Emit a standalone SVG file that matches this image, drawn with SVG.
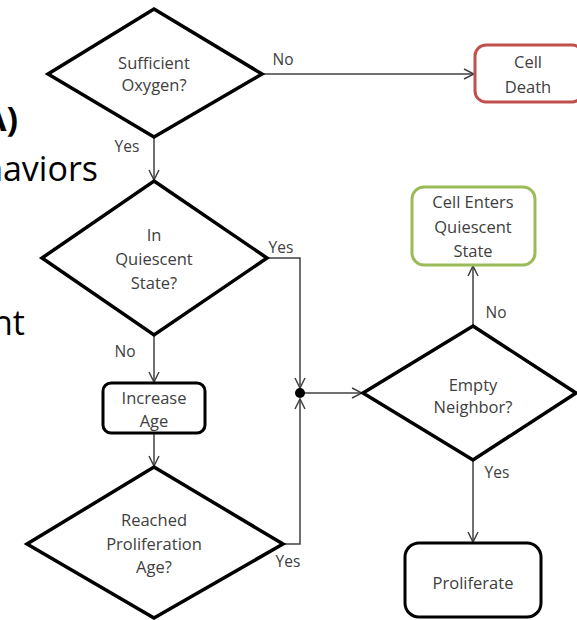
<svg xmlns="http://www.w3.org/2000/svg" width="577" height="620" viewBox="0 0 577 620">
  <defs>
    <marker id="arr" viewBox="0 0 12 12" refX="11" refY="6" markerWidth="12" markerHeight="12" markerUnits="userSpaceOnUse" orient="auto">
      <path d="M1,1 L11,6 L1,11" fill="none" stroke="#404040" stroke-width="1.5"/>
    </marker>
  </defs>
  <style>
    .dia { fill: #ffffff; stroke: #000000; stroke-width: 3.5; stroke-linejoin: miter; }
    .box { fill: #ffffff; stroke: #000000; stroke-width: 3; }
    .red { stroke: #c0504d; }
    .green { stroke: #9bbb59; }
    .t { font-family: "Open Sans", "Liberation Sans", sans-serif; font-size: 16.5px; fill: #404040; text-anchor: middle; }
    .lbl { font-family: "Open Sans", "Liberation Sans", sans-serif; font-size: 15.5px; fill: #404040; text-anchor: middle; }
    .big { font-family: "Open Sans", "Liberation Sans", sans-serif; font-size: 34px; fill: #000000; text-anchor: end; }
    .conn { fill: none; stroke: #404040; stroke-width: 1.5; }
  </style>
  <rect width="577" height="620" fill="#ffffff"/>

  <g id="background-text">
    <text class="big" x="18" y="131" font-weight="bold">A)</text>
    <text class="big" x="98" y="181">haviors</text>
    <text class="big" x="25" y="335">nt</text>
  </g>

  <g id="connectors">
    <path class="conn" d="M262,74 H474" marker-end="url(#arr)"/>
    <path class="conn" d="M154,137 V180" marker-end="url(#arr)"/>
    <path class="conn" d="M154,335 V382" marker-end="url(#arr)"/>
    <path class="conn" d="M154,433 V466" marker-end="url(#arr)"/>
    <path class="conn" d="M267,258 H300 V388" marker-end="url(#arr)"/>
    <path class="conn" d="M283,544 H300 V399" marker-end="url(#arr)"/>
    <path class="conn" d="M300,393 H362" marker-end="url(#arr)"/>
    <path class="conn" d="M473,326 V266" marker-end="url(#arr)"/>
    <path class="conn" d="M473,460 V542" marker-end="url(#arr)"/>
    <circle cx="300" cy="393" r="5" fill="#000000"/>
    <text class="lbl" x="283" y="65">No</text>
    <text class="lbl" x="127" y="152">Yes</text>
    <text class="lbl" x="281" y="253">Yes</text>
    <text class="lbl" x="125" y="357">No</text>
    <text class="lbl" x="496" y="318">No</text>
    <text class="lbl" x="497" y="478">Yes</text>
    <text class="lbl" x="288" y="567">Yes</text>
  </g>

  <g id="sufficient-oxygen">
    <polygon class="dia" points="154,9 262,74 154,137 48,74"/>
    <text class="t" x="154" y="69">Sufficient</text>
    <text class="t" x="154" y="91">Oxygen?</text>
  </g>

  <g id="cell-death">
    <rect class="box red" x="475" y="45" width="108" height="57" rx="11"/>
    <text class="t" x="528" y="68">Cell</text>
    <text class="t" x="528" y="93">Death</text>
  </g>

  <g id="in-quiescent">
    <polygon class="dia" points="154,181 267,258 154,335 42,258"/>
    <text class="t" x="154" y="241">In</text>
    <text class="t" x="154" y="265">Quiescent</text>
    <text class="t" x="154" y="289">State?</text>
  </g>

  <g id="increase-age">
    <rect class="box" x="103" y="383" width="102" height="50" rx="8"/>
    <text class="t" x="154" y="404">Increase</text>
    <text class="t" x="154" y="427">Age</text>
  </g>

  <g id="reached-proliferation-age">
    <polygon class="dia" points="154,467 283,544 154,618 27,544"/>
    <text class="t" x="154" y="526">Reached</text>
    <text class="t" x="154" y="550">Proliferation</text>
    <text class="t" x="154" y="573">Age?</text>
  </g>

  <g id="cell-enters-quiescent">
    <rect class="box green" x="412" y="187" width="123" height="78" rx="12"/>
    <text class="t" x="473" y="208">Cell Enters</text>
    <text class="t" x="473" y="233">Quiescent</text>
    <text class="t" x="473" y="257">State</text>
  </g>

  <g id="empty-neighbor">
    <polygon class="dia" points="473,326 576,393 473,460 363,393"/>
    <text class="t" x="473" y="391">Empty</text>
    <text class="t" x="473" y="413">Neighbor?</text>
  </g>

  <g id="proliferate">
    <rect class="box" x="405" y="543" width="136" height="74" rx="14" stroke-width="3.5"/>
    <text class="t" x="473" y="589">Proliferate</text>
  </g>
</svg>
